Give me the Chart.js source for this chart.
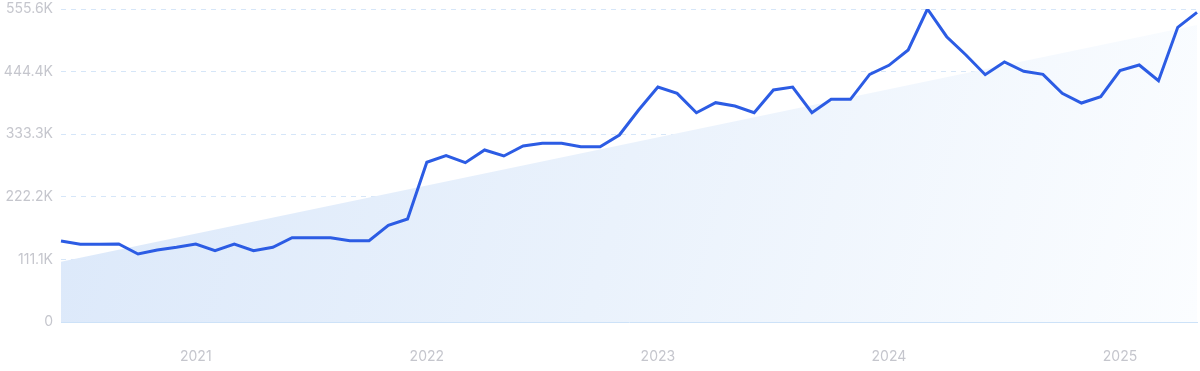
<!DOCTYPE html>
<html>
<head>
<meta charset="utf-8">
<script src="https://cdn.jsdelivr.net/npm/chart.js@4"></script>
<style>
    html, body { margin: 0; padding: 0; background: #ffffff; }
    #wrap { width: 1200px; height: 371px; position: relative; }
</style>
</head>
<body>
<div id="wrap"><canvas id="trendChart"></canvas></div>
<script>
// Mois : juin 2020 -> mai 2025
const months = [
    '2020-06', '2020-07', '2020-08', '2020-09', '2020-10', '2020-11', '2020-12',
    '2021-01', '2021-02', '2021-03', '2021-04', '2021-05', '2021-06', '2021-07', '2021-08', '2021-09', '2021-10', '2021-11', '2021-12',
    '2022-01', '2022-02', '2022-03', '2022-04', '2022-05', '2022-06', '2022-07', '2022-08', '2022-09', '2022-10', '2022-11', '2022-12',
    '2023-01', '2023-02', '2023-03', '2023-04', '2023-05', '2023-06', '2023-07', '2023-08', '2023-09', '2023-10', '2023-11', '2023-12',
    '2024-01', '2024-02', '2024-03', '2024-04', '2024-05', '2024-06', '2024-07', '2024-08', '2024-09', '2024-10', '2024-11', '2024-12',
    '2025-01', '2025-02', '2025-03', '2025-04', '2025-05'
];

// Volume mensuel
const volume = [
    143800, 138000, 138000, 138500, 120700, 127800, 132600,
    138500, 126600, 138500, 126600, 132600, 149700, 149700, 149700, 144300, 144300, 171600, 182800,
    283500, 295200, 282800, 305300, 294700, 312400, 317200, 317200, 311200, 311200, 331900, 376300,
    417100, 405900, 371500, 389300, 383400, 371500, 411800, 417100, 371500, 395300, 395300, 439600,
    455600, 482800, 555600, 506400, 473900, 439000, 461500, 445000, 439600, 405900, 388700, 399900,
    446200, 456200, 428300, 523100, 549700
];

// Tendance : seulement les deux extrémités
const trendStart = 107000;
const trendEnd = 527000;

const yTickValues = [0, 111120, 222240, 333360, 444480, 555600];
const yTickLabels = ['0', '111.1K', '222.2K', '333.3K', '444.4K', '555.6K'];

const trend = months.map((m, i) => {
    if (i === 0) return trendStart;
    if (i === months.length - 1) return trendEnd;
    return null;
});

const tickFont = { family: 'Inter, "Noto Sans", sans-serif', size: 14 };
const tickColor = '#c5c6cd';

const ctx = document.getElementById('trendChart').getContext('2d');
const chart = new Chart(ctx, {
    type: 'line',
    data: {
        labels: months,
        datasets: [{
            label: 'Volume',
            data: volume,
            borderColor: '#2c5ce4',
            borderWidth: 3,
            pointRadius: 0,
            tension: 0,
            fill: false,
            order: 0
        }, {
            label: 'Tendance',
            data: trend,
            spanGaps: true,
            borderWidth: 0,
            borderColor: 'rgba(0,0,0,0)',
            pointRadius: 0,
            fill: 'origin',
            order: 1,
            backgroundColor: (c) => {
                const area = c.chart.chartArea;
                if (!area) return '#e4eefb';
                const g = c.chart.ctx.createLinearGradient(area.left, area.top, area.right, area.bottom);
                g.addColorStop(0, '#dbe8fa');
                g.addColorStop(0.5, '#eaf2fc');
                g.addColorStop(1, '#fbfdff');
                return g;
            }
        }]
    },
    options: {
        responsive: true,
        maintainAspectRatio: false,
        animation: false,
        layout: { padding: { top: 9, right: 3, left: 0, bottom: 0 } },
        plugins: {
            legend: { display: false },
            tooltip: { enabled: false }
        },
        scales: {
            x: {
                offset: false,
                grid: { display: false },
                border: { display: true, color: '#cde2f8', width: 1 },
                afterFit: (scale) => { scale.height = 49; },
                ticks: {
                    autoSkip: false,
                    maxRotation: 0,
                    padding: 18,
                    color: tickColor,
                    font: tickFont,
                    callback: function (val, idx) {
                        const lab = months[idx];
                        return lab.endsWith('-01') ? lab.slice(0, 4) : null;
                    }
                }
            },
            y: {
                min: 0,
                max: 555600,
                afterBuildTicks: (scale) => {
                    scale.ticks = yTickValues.map(v => ({ value: v }));
                },
                afterFit: (scale) => {
                    scale.width = 61;
                    scale.paddingTop = 0;
                    scale.paddingBottom = 0;
                },
                grid: {
                    color: '#d6e6f8',
                    lineWidth: 1,
                    drawTicks: false
                },
                border: { display: false, dash: [5, 5] },
                ticks: {
                    padding: 8,
                    color: tickColor,
                    font: tickFont,
                    callback: function (val, idx) {
                        return yTickLabels[idx];
                    }
                }
            }
        }
    }
});
</script>
</body>
</html>
